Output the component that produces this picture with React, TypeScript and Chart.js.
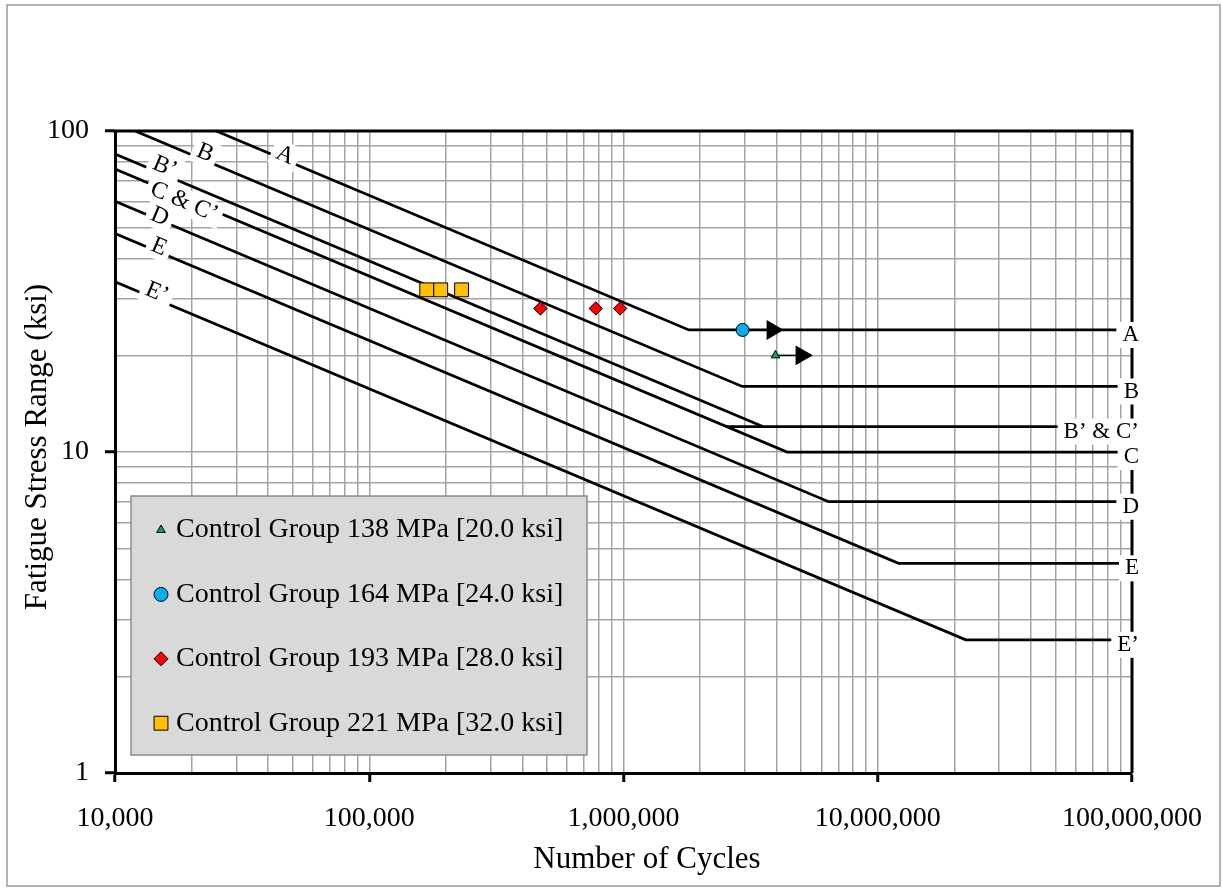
import React, { useEffect, useRef } from 'react';
import { Chart, registerables } from 'chart.js';

Chart.register(...registerables);

const FONT = "'Liberation Serif', 'Times New Roman', serif";

// ---- Fatigue design curves (N = cycles, S = stress range in ksi) ----
const curveA_N = [25000, 1808000, 100000000];
const curveA_S = [100, 24, 24];
const curveB_N = [12000, 2930000, 100000000];
const curveB_S = [100, 16, 16];
const curveBp_N = [10000, 3530000];
const curveBp_S = [84.8, 12];
const curveC_N = [10000, 4400000, 100000000];
const curveC_S = [76.1, 10, 10];
const curveCp_N = [2546000, 100000000];
const curveCp_S = [12, 12];
const curveD_N = [10000, 6410000, 100000000];
const curveD_S = [60.4, 7, 7];
const curveE_N = [10000, 12070000, 100000000];
const curveE_S = [47.9, 4.5, 4.5];
const curveEp_N = [10000, 22190000, 100000000];
const curveEp_S = [33.9, 2.6, 2.6];

// ---- Test results ----
const cg138_N = [3960000];
const cg138_S = [20];
const cg164_N = [2940000];
const cg164_S = [24];
const cg193_N = [471000, 778000, 970000];
const cg193_S = [28, 28, 28];
const cg221_N = [168300, 191000, 230700];
const cg221_S = [32, 32, 32];

// run-out arrows
const runout164_N = [2940000, 3850000];
const runout164_S = [24, 24];
const runout138_N = [3960000, 5006000];
const runout138_S = [20, 20];

// ---- Curve labels ----
const leftLabelText = ['A', 'B', 'B’', 'C & C’', 'D', 'E', 'E’'];
const leftLabelN = [46600, 22600, 15700, 18700, 15000, 14900, 14600];
const leftLabelS = [84, 85.4, 77.2, 60.1, 54.0, 43.5, 31.3];
const rightLabelText = ['A', 'B', 'B’ & C’', 'C', 'D', 'E', 'E’'];
const rightLabelS = [24, 16, 12, 10, 7, 4.5, 2.6];

// ---- Legend ----
const legendLabels = [
  'Control Group 138 MPa [20.0 ksi]',
  'Control Group 164 MPa [24.0 ksi]',
  'Control Group 193 MPa [28.0 ksi]',
  'Control Group 221 MPa [32.0 ksi]',
];

const X_MIN = 10000;
const X_MAX = 100000000;
const Y_MIN = 1;
const Y_MAX = 100;

const pts = (n: number[], s: number[]) => n.map((v, i) => ({ x: v, y: s[i] }));

function logTicks(min: number, max: number) {
  const out: { value: number; major: boolean }[] = [];
  const e0 = Math.round(Math.log10(min));
  const e1 = Math.round(Math.log10(max));
  for (let e = e0; e < e1; e++) {
    for (let m = 1; m < 10; m++) out.push({ value: m * Math.pow(10, e), major: m === 1 });
  }
  out.push({ value: max, major: true });
  return out;
}

const isMajor = (v: number) => Math.abs(Math.log10(v) - Math.round(Math.log10(v))) < 1e-9;

function curve(n: number[], s: number[]) {
  return {
    data: pts(n, s),
    showLine: true,
    borderColor: '#000',
    borderWidth: 2.75,
    pointRadius: 0,
    tension: 0,
    order: 3,
  };
}

function drawMarker(ctx: CanvasRenderingContext2D, style: string, x: number, y: number, r: number, fill: string) {
  ctx.beginPath();
  if (style === 'triangle') {
    ctx.moveTo(x, y - r);
    ctx.lineTo(x + r * 0.866, y + r / 2);
    ctx.lineTo(x - r * 0.866, y + r / 2);
    ctx.closePath();
  } else if (style === 'circle') {
    ctx.arc(x, y, r, 0, Math.PI * 2);
  } else if (style === 'rectRot') {
    ctx.moveTo(x - r, y);
    ctx.lineTo(x, y - r);
    ctx.lineTo(x + r, y);
    ctx.lineTo(x, y + r);
    ctx.closePath();
  } else {
    const h = r * Math.SQRT1_2;
    ctx.rect(x - h, y - h, 2 * h, 2 * h);
  }
  ctx.fillStyle = fill;
  ctx.fill();
  ctx.strokeStyle = '#000';
  ctx.lineWidth = 1;
  ctx.stroke();
}

const markerStyles = [
  { style: 'triangle', r: 5, color: '#00a651' },
  { style: 'circle', r: 6.5, color: '#00b0f0' },
  { style: 'rectRot', r: 6.7, color: '#ff0000' },
  { style: 'rect', r: 9.8, color: '#ffc000' },
];

const overlayPlugin = {
  id: 'overlay',
  afterDraw(chart: any) {
    const { ctx, chartArea: a, scales } = chart;
    const xs = scales.x;
    const ys = scales.y;
    ctx.save();

    // top & right frame
    ctx.strokeStyle = '#000';
    ctx.lineWidth = 3;
    ctx.beginPath();
    ctx.moveTo(a.left - 1.5, a.top);
    ctx.lineTo(a.right, a.top);
    ctx.lineTo(a.right, a.bottom);
    ctx.stroke();

    // left (sloped) labels
    const dx = xs.getPixelForValue(100000) - xs.getPixelForValue(10000);
    const dy = (ys.getPixelForValue(1) - ys.getPixelForValue(10)) / 3;
    const ang = Math.atan2(dy, dx);
    ctx.font = `24px ${FONT}`;
    ctx.textAlign = 'center';
    ctx.textBaseline = 'middle';
    leftLabelText.forEach((t, i) => {
      const px = xs.getPixelForValue(leftLabelN[i]);
      const py = ys.getPixelForValue(leftLabelS[i]);
      ctx.save();
      ctx.translate(px, py);
      ctx.rotate(ang);
      const w = ctx.measureText(t).width + 10;
      ctx.fillStyle = '#fff';
      ctx.fillRect(-w / 2, -13, w, 26);
      ctx.fillStyle = '#000';
      ctx.fillText(t, 0, 0);
      ctx.restore();
    });

    // right labels
    ctx.font = `23px ${FONT}`;
    ctx.textAlign = 'right';
    rightLabelText.forEach((t, i) => {
      const py = ys.getPixelForValue(rightLabelS[i]) + 5;
      const rx = a.right + 7;
      const w = ctx.measureText(t).width;
      ctx.fillStyle = '#fff';
      ctx.fillRect(rx - w - 6, py - 13, w + 10, 26);
      ctx.fillStyle = '#000';
      ctx.fillText(t, rx, py);
    });

    // legend
    const lx = a.left + 16;
    const ly = a.top + 365;
    const lw = 456;
    const lh = 259;
    ctx.fillStyle = '#d9d9d9';
    ctx.fillRect(lx, ly, lw, lh);
    ctx.strokeStyle = '#8c8c8c';
    ctx.lineWidth = 1.5;
    ctx.strokeRect(lx, ly, lw, lh);
    ctx.font = `28px ${FONT}`;
    ctx.textAlign = 'left';
    ctx.textBaseline = 'middle';
    legendLabels.forEach((t, i) => {
      const cy = ly + 34 + i * 64.4;
      const m = markerStyles[i];
      drawMarker(ctx, m.style, lx + 30, cy, i === 0 ? 5 : m.style === 'rect' ? 9.8 : 7, m.color);
      ctx.fillStyle = '#000';
      ctx.fillText(t, lx + 45, cy);
    });

    // axis titles
    ctx.font = `31px ${FONT}`;
    ctx.textAlign = 'center';
    ctx.fillStyle = '#000';
    ctx.fillText('Number of Cycles', 647, 860);
    ctx.save();
    ctx.translate(38, 447);
    ctx.rotate(-Math.PI / 2);
    ctx.fillText('Fatigue Stress Range (ksi)', 0, 0);
    ctx.restore();

    // outer frame
    ctx.strokeStyle = '#9a9a9a';
    ctx.lineWidth = 1.5;
    ctx.strokeRect(7, 5, 1213, 881);
    ctx.restore();
  },
};

const gridColor = '#a3a3a3';

export default function App() {
  const ref = useRef<HTMLCanvasElement>(null);
  useEffect(() => {
    document.body.style.margin = '0';
    const canvas = ref.current!;
    const chart = new Chart(canvas, {
      type: 'scatter',
      data: {
        datasets: [
          {
            label: legendLabels[0],
            data: pts(cg138_N, cg138_S),
            pointStyle: 'triangle',
            pointRadius: 5,
            backgroundColor: markerStyles[0].color,
            borderColor: '#000',
            borderWidth: 1,
            order: 0,
          },
          {
            label: legendLabels[1],
            data: pts(cg164_N, cg164_S),
            pointStyle: 'circle',
            pointRadius: 6.5,
            backgroundColor: markerStyles[1].color,
            borderColor: '#000',
            borderWidth: 1,
            order: 0,
          },
          {
            label: legendLabels[2],
            data: pts(cg193_N, cg193_S),
            pointStyle: 'rectRot',
            pointRadius: 6.7,
            backgroundColor: markerStyles[2].color,
            borderColor: '#000',
            borderWidth: 1,
            order: 0,
          },
          {
            label: legendLabels[3],
            data: pts(cg221_N, cg221_S),
            pointStyle: 'rect',
            pointRadius: 9.8,
            backgroundColor: markerStyles[3].color,
            borderColor: '#000',
            borderWidth: 1,
            order: 0,
          },
          {
            data: pts(runout164_N, runout164_S),
            showLine: true,
            borderColor: '#000',
            borderWidth: 1.5,
            pointRadius: [0, 10],
            pointStyle: 'triangle',
            pointRotation: 90,
            pointBackgroundColor: '#000',
            pointBorderColor: '#000',
            order: 1,
          },
          {
            data: pts(runout138_N, runout138_S),
            showLine: true,
            borderColor: '#000',
            borderWidth: 1.5,
            pointRadius: [0, 10],
            pointStyle: 'triangle',
            pointRotation: 90,
            pointBackgroundColor: '#000',
            pointBorderColor: '#000',
            order: 1,
          },
          curve(curveA_N, curveA_S),
          curve(curveB_N, curveB_S),
          curve(curveBp_N, curveBp_S),
          curve(curveC_N, curveC_S),
          curve(curveCp_N, curveCp_S),
          curve(curveD_N, curveD_S),
          curve(curveE_N, curveE_S),
          curve(curveEp_N, curveEp_S),
        ] as any,
      },
      options: {
        responsive: false,
        animation: false,
        events: [],
        layout: { padding: { left: 0, top: 131, right: 89, bottom: 0 } },
        plugins: { legend: { display: false }, tooltip: { enabled: false }, title: { display: false } },
        scales: {
          x: {
            type: 'logarithmic',
            position: 'bottom',
            min: X_MIN,
            max: X_MAX,
            afterFit: (s: any) => { s.height = 115; },
            afterBuildTicks: (s: any) => { s.ticks = logTicks(X_MIN, X_MAX); },
            ticks: {
              autoSkip: false,
              maxRotation: 0,
              minRotation: 0,
              padding: 20,
              color: '#000',
              font: { family: FONT, size: 28 },
              callback: (v: any) => (isMajor(Number(v)) ? Number(v).toLocaleString('en-US') : ''),
            },
            grid: {
              color: gridColor,
              lineWidth: 1.5,
              tickLength: 9,
              tickWidth: 3,
              tickColor: (c: any) => (c.tick && c.tick.major ? '#000' : 'rgba(0,0,0,0)'),
            },
            border: { display: true, color: '#000', width: 3 },
          },
          y: {
            type: 'logarithmic',
            position: 'left',
            min: Y_MIN,
            max: Y_MAX,
            afterFit: (s: any) => { s.width = 115; },
            afterBuildTicks: (s: any) => { s.ticks = logTicks(Y_MIN, Y_MAX); },
            ticks: {
              autoSkip: false,
              padding: 16,
              color: '#000',
              font: { family: FONT, size: 28 },
              callback: (v: any) => (isMajor(Number(v)) ? String(Number(v)) : ''),
            },
            grid: {
              color: gridColor,
              lineWidth: 1.5,
              tickLength: 10,
              tickWidth: 3,
              tickColor: (c: any) => (c.tick && c.tick.major ? '#000' : 'rgba(0,0,0,0)'),
            },
            border: { display: true, color: '#000', width: 3 },
          },
        },
      } as any,
      plugins: [overlayPlugin],
    });
    return () => chart.destroy();
  }, []);
  return <canvas ref={ref} width={1222} height={888} style={{ display: 'block' }} />;
}
